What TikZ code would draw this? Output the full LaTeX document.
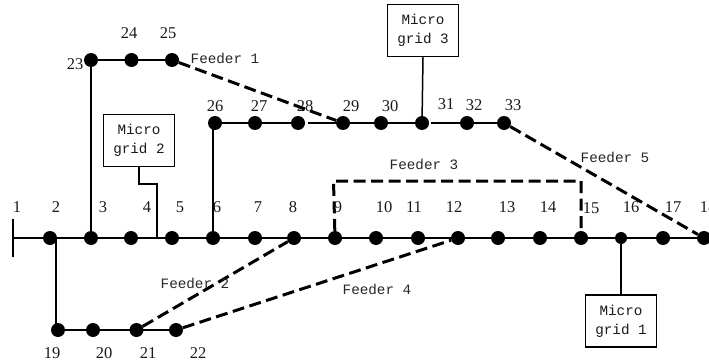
\documentclass[tikz,border=0pt]{standalone}
\usepackage{fontspec}
\setmainfont{Liberation Serif}
\newfontfamily\labelmono{Liberation Mono}
\tikzset{
  x=1pt,y=-1pt,
  bus/.style={circle,fill=black,minimum size=14pt,inner sep=0pt},
  busb/.style={circle,fill=black,minimum size=12pt,inner sep=0pt},
  num/.style={font=\fontsize{16.5}{16.5}\selectfont,inner sep=0pt,text=black!90},
  feed/.style={font=\labelmono\fontsize{14.3}{14.3}\selectfont,inner sep=0pt,text=black!85},
  mg/.style={draw,line width=1.5pt,minimum width=71pt,minimum height=52pt,inner sep=0pt,align=center,font=\labelmono\fontsize{14.3}{19}\selectfont,text=black!90},
  wire/.style={line width=1.5pt},
  tie/.style={line width=3pt,dash pattern=on 12pt off 5.5pt},
}
\begin{document}
\begin{tikzpicture}
\useasboundingbox (0,0) rectangle (709,361);
% bus nodes
\foreach \n/\x in {2/50,3/91,4/131,5/172,6/213,7/255,8/294,9/335,10/376,11/418,12/458,13/498,14/540,15/581,17/663,18/704}
  \node[bus] (n\n) at (\x,238) {};
\node[busb] (n16) at (621,238) {};
\foreach \n/\x in {19/58,20/93,21/136.5,22/176}
  \node[bus] (n\n) at (\x,330) {};
\foreach \n/\x in {23/91,24/131.5,25/172}
  \node[bus] (n\n) at (\x,60) {};
\foreach \n/\x in {26/215,27/255,28/298,29/343,30/381,31/422,32/467,33/504}
  \node[bus] (n\n) at (\x,123) {};
\coordinate (bart) at (13,219);
\coordinate (barb) at (13,257);
\coordinate (barm) at (13,238);
% main feeder
\draw[wire,line width=1.8pt] (bart) -- (barb);
\draw[wire] (barm) -- (n2.center) -- (n18.center);
% laterals
\coordinate (t2) at (56,238);
\coordinate (t19) at (56,330);
\draw[wire] (t2) -- (t19) -- (n19.center) -- (n22.center);
\draw[wire] (n3.center) -- (n23.center) -- (n25.center);
\coordinate (t26) at (213,123);
\draw[wire] (n6.center) -- (t26) -- (n26.center);
\draw[wire] (n26.center) -- (n28.center);
\draw[wire,shorten <=3pt] (n28) -- (n29);
\draw[wire] (n29.center) -- (n31.center);
\draw[wire,shorten <=2pt] (n31) -- (n32);
\draw[wire] (n32.center) -- (n33.center);
% microgrids
\node[mg] (mg3) at (423,30.5) {Micro\\grid 3};
\node[mg] (mg2) at (139,140.5) {Micro\\grid 2};
\node[mg] (mg1) at (621,321) {Micro\\grid 1};
\coordinate (m2a) at (139,184);
\coordinate (m2b) at (157,184);
\coordinate (m2c) at (157,238);
\draw[wire] (mg2.south) -- (m2a) -- (m2b) -- (m2c);
\draw[wire] (mg3.south) -- (n31);
\draw[wire] (n16) -- (mg1.north);
% tie lines
\coordinate (f3a) at (333.5,181);
\coordinate (f3b) at (581,181);
\draw[tie] (n25) -- (n29);
\draw[tie] (n33) -- (n18);
\draw[tie] (n9) -- (f3a) -- (f3b) -- (n15);
\draw[tie] (n21) -- (n8);
\draw[tie] (n22) -- (n12);
% numbers
\foreach \t/\x/\y in {1/17/207,2/56/207,3/103/207,4/147/207,5/180/207,6/217/207,7/258/207,8/293/207,9/338/207,10/384/207,11/414/207,12/454/207,13/507/207,14/548/207,15/591/208,16/631/207,17/673/207,18/708/207,19/52/353,20/104/353,21/148/353,22/198/353,23/75/64,24/129/33,25/168/33,26/215/106,27/259/106,28/305/106,29/351/106,30/390/106,31/446/104,32/474/105,33/513/105}
  \node[num] (l\t) at (\x,\y) {\t};
% feeder labels
\node[feed] (f1) at (225,58) {Feeder 1};
\node[feed] (f2) at (195,283.5) {Feeder 2};
\node[feed] (f3) at (424,164) {Feeder 3};
\node[feed] (f4) at (377,289) {Feeder 4};
\node[feed] (f5) at (615,157.5) {Feeder 5};
\end{tikzpicture}
\end{document}
